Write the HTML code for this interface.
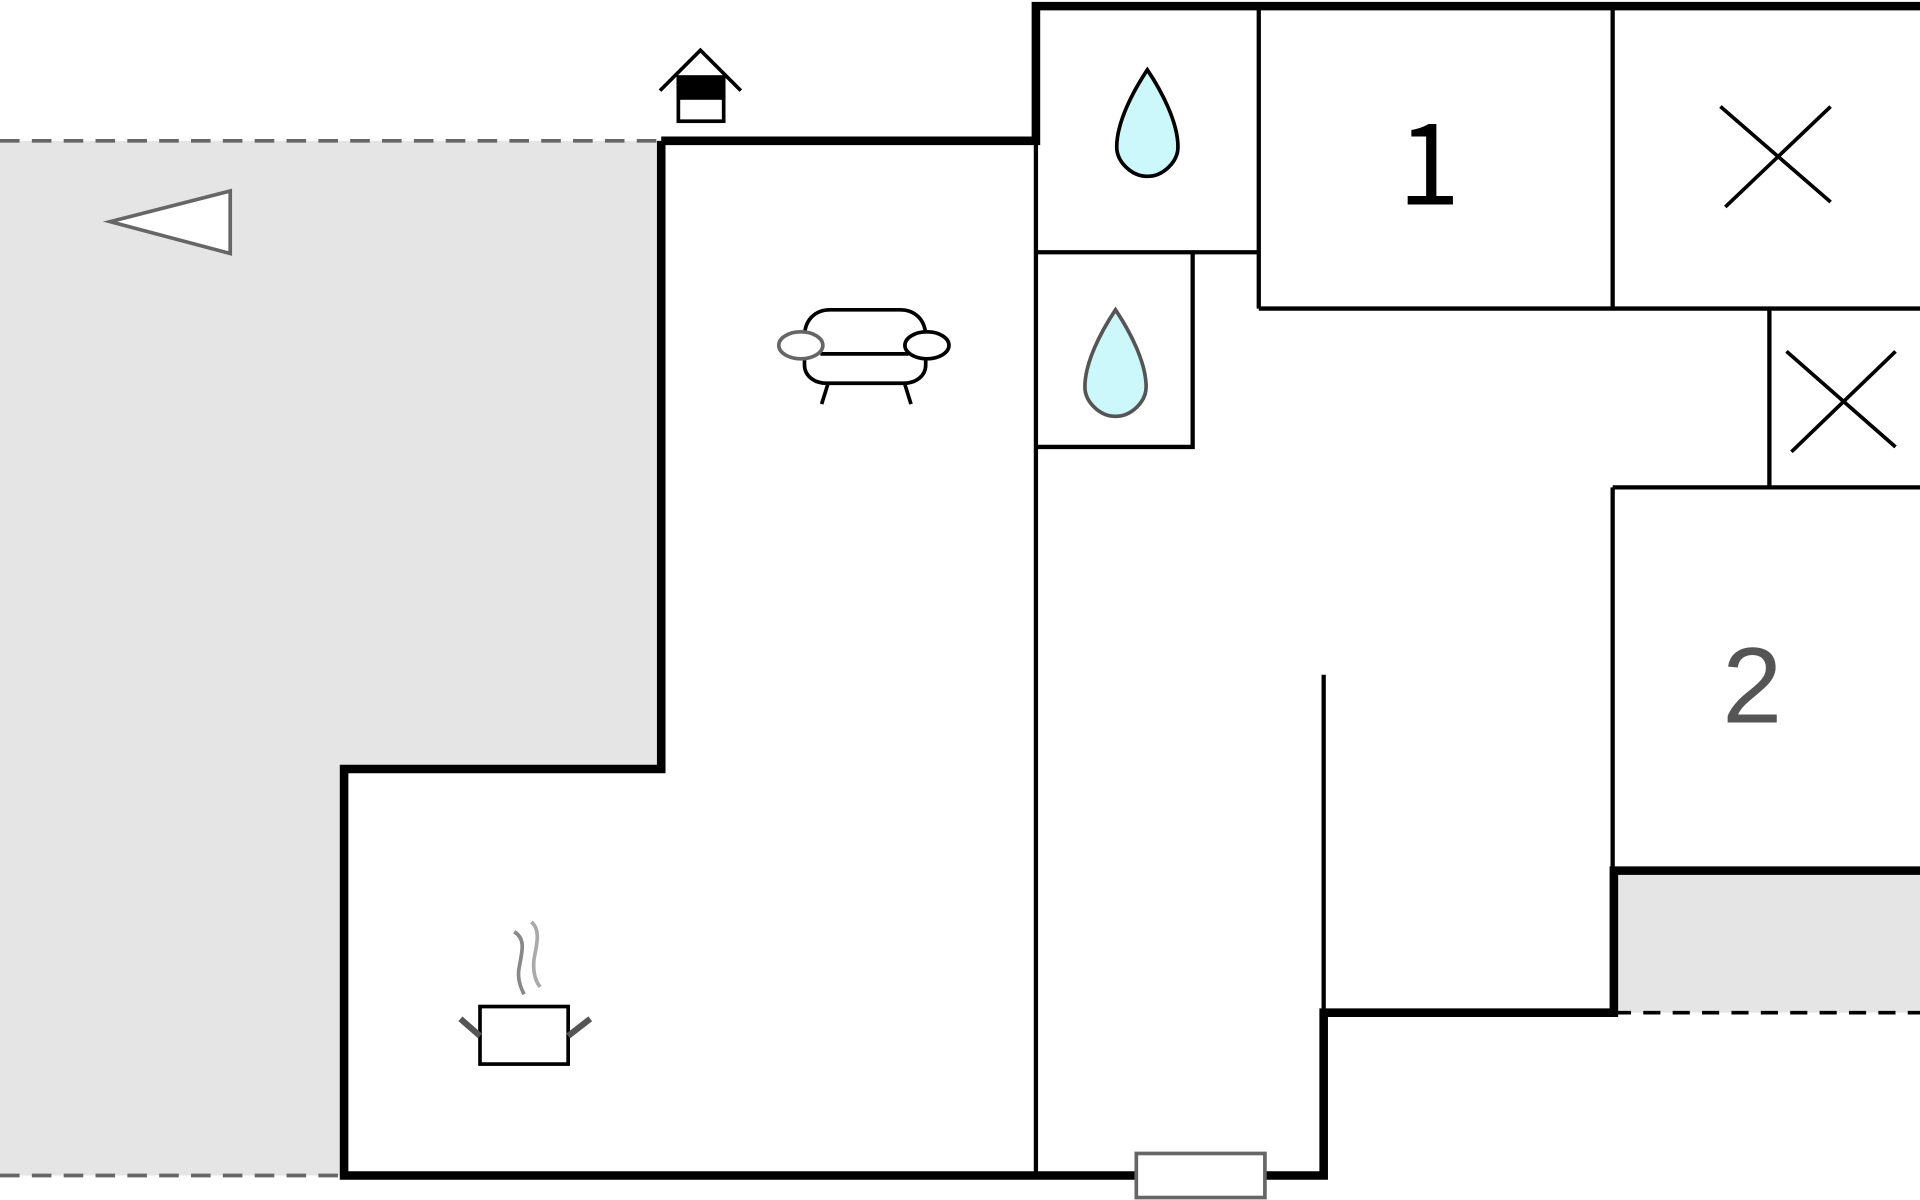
<!DOCTYPE html>
<html><head><meta charset="utf-8"><style>
html,body{margin:0;padding:0;background:#fff;}
svg{display:block;}
</style></head><body>
<svg width="1920" height="1200" viewBox="0 0 1568 980" xmlns="http://www.w3.org/2000/svg">
<rect width="1568" height="980" fill="#fff"/>
<polygon points="0,115 540,115 540,628 281,628 281,960 0,960" fill="#e5e5e5"/>
<rect x="1318" y="711" width="250" height="116" fill="#e5e5e5"/>
<g stroke="#666" stroke-width="3" stroke-dasharray="16,10" fill="none">
<line x1="0" y1="115" x2="540" y2="115"/>
<line x1="0" y1="960" x2="281" y2="960"/>
</g>
<line x1="1318" y1="827" x2="1568" y2="827" stroke="#000" stroke-width="3" stroke-dasharray="14,10"/>
<g stroke="#000" stroke-width="3.5" fill="none">
<line x1="846" y1="115" x2="846" y2="960"/>
<line x1="846" y1="206" x2="1028" y2="206"/>
<line x1="1028" y1="5" x2="1028" y2="252"/>
<line x1="1028" y1="252" x2="1568" y2="252"/>
<line x1="1317" y1="5" x2="1317" y2="252"/>
<polyline points="846,365 974,365 974,206"/>
<line x1="1445" y1="252" x2="1445" y2="398"/>
<line x1="1317" y1="398" x2="1568" y2="398"/>
<line x1="1317" y1="398" x2="1317" y2="711"/>
<line x1="1081" y1="551" x2="1081" y2="827"/>
</g>
<g stroke="#000" stroke-width="7" fill="none" stroke-linejoin="miter">
<polyline points="540,115 846,115 846,5 1568,5"/>
<polyline points="540,115 540,628 281,628 281,960 1081,960 1081,827 1318,827 1318,711 1568,711"/>
</g>
<rect x="928" y="942" width="105" height="36" fill="#fff" stroke="#666" stroke-width="3"/>
<text x="1167" y="167" font-family="'Noto Sans CJK SC', sans-serif" font-size="92" text-anchor="middle" fill="#000">1</text>
<text x="1431" y="590" font-family="'Liberation Sans', Arial, sans-serif" font-size="88" text-anchor="middle" fill="#555">2</text>
<g stroke="#000" stroke-width="3">
<line x1="1405" y1="87" x2="1495" y2="165"/><line x1="1495" y1="87" x2="1409" y2="169"/>
<line x1="1459" y1="287" x2="1548" y2="365"/><line x1="1548" y1="287" x2="1463" y2="369"/>
</g>
<path d="M937,57 C925,75 912,100 912,120 C912,132 924,144 937,144 C950,144 962,132 962,120 C962,100 949,75 937,57 Z" fill="#ccf7fb" stroke="#000" stroke-width="3"/>
<path d="M911,253 C899,271 886,296 886,316 C886,328 898,340 911,340 C924,340 936,328 936,316 C936,296 923,271 911,253 Z" fill="#ccf7fb" stroke="#555" stroke-width="3"/>
<polygon points="90,181 188,156 188,207" fill="#fff" stroke="#666" stroke-width="3"/>
<g stroke="#000" stroke-width="3" fill="none">
<polyline points="539,74 572,41 605,74"/>
<rect x="554" y="63" width="37" height="36" fill="#fff"/>
<rect x="554" y="63" width="37" height="17" fill="#000"/>
</g>
<g stroke="#000" stroke-width="3" fill="#fff">
<path d="M657,275 C657,262 665,253 678,253 L735,253 C748,253 756,262 756,275 L756,298 C756,307 748,313 738,313 L675,313 C665,313 657,307 657,298 Z"/>
<line x1="670" y1="289" x2="742" y2="289"/>
<ellipse cx="654" cy="282" rx="18" ry="11" stroke="#666"/>
<ellipse cx="757" cy="282" rx="18" ry="11"/>
<line x1="676" y1="314" x2="671" y2="330"/>
<line x1="739" y1="314" x2="744" y2="330"/>
</g>
<g stroke-width="3" fill="none">
<path d="M420,761 C430,767 426,778 424,790 C422,800 426,808 428,812" stroke="#888"/>
<path d="M434,753 C442,760 438,772 436,784 C435,795 438,802 441,806" stroke="#aaa"/>
<rect x="392" y="822" width="72" height="47" fill="#fff" stroke="#000"/>
<line x1="376" y1="832" x2="392" y2="846" stroke="#555" stroke-width="5"/>
<line x1="482" y1="832" x2="464" y2="846" stroke="#555" stroke-width="5"/>
</g>
</svg>
</body></html>
